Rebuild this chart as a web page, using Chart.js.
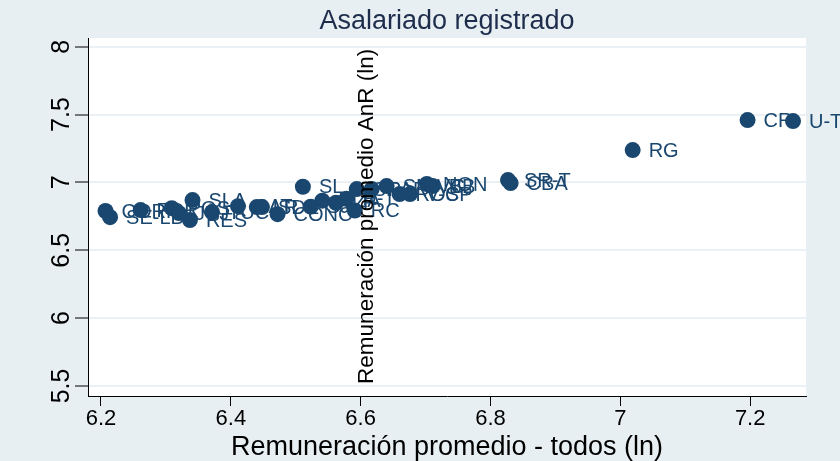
<!DOCTYPE html>
<html>
<head>
<meta charset="utf-8">
<script src="https://cdn.jsdelivr.net/npm/chart.js@4/dist/chart.umd.min.js"></script>
<style>
  body { margin: 0; background: #e8eff2; }
  canvas { display: block; }
</style>
</head>
<body>
<canvas id="chart" width="840" height="461"></canvas>
<script>
// aglomerados: labels, x = remuneración promedio todos (ln), y = remuneración AnR (ln)
const names = ['CORR', 'SE-LB', 'FOR', 'POS', 'JUJ', 'SLA', 'RES', 'TUC', 'CAT', 'LR',
  'SDE', 'CONC', 'SL', 'SJ', 'MZA', 'LP', 'R-T', 'RC', 'SF', 'PAR', 'SN-VC', 'ROS',
  'V-CP', 'NQN', 'BB', 'SR-T', 'CBA', 'RG', 'CR', 'U-TF'];
const xVals = [6.207, 6.214, 6.261, 6.309, 6.320, 6.341, 6.337, 6.371, 6.411, 6.440,
  6.448, 6.472, 6.511, 6.523, 6.541, 6.562, 6.578, 6.591, 6.594, 6.617, 6.640, 6.660,
  6.676, 6.702, 6.711, 6.827, 6.831, 7.019, 7.196, 7.266];
const yVals = [6.789, 6.744, 6.796, 6.810, 6.774, 6.870, 6.722, 6.781, 6.825, 6.818,
  6.818, 6.766, 6.968, 6.821, 6.865, 6.850, 6.879, 6.793, 6.951, 6.951, 6.973, 6.914,
  6.914, 6.988, 6.973, 7.017, 6.995, 7.238, 7.459, 7.452];

const xTicks = [6.2, 6.4, 6.6, 6.8, 7, 7.2];
const yTicks = [5.5, 6, 6.5, 7, 7.5, 8];

const titleText = 'Asalariado registrado';
const xTitle = 'Remuneración promedio - todos (ln)';
const lineText = 'Remuneración promedio AnR (ln)';
const lineAt = { x: 6.6, y: 6.75 };

const family = '"Liberation Sans", Arial, sans-serif';
const markerColor = '#1a476f';
const bgColor = '#e8eff2';
const gridColor = '#eaf0f3';

const plotBg = {
    id: 'plotBg',
    beforeDraw(chart) {
        const { ctx, chartArea } = chart;
        ctx.save();
        ctx.fillStyle = bgColor;
        ctx.fillRect(0, 0, chart.width, chart.height);
        ctx.fillStyle = '#ffffff';
        ctx.fillRect(chartArea.left, chartArea.top, chartArea.right - chartArea.left, chartArea.bottom - chartArea.top);
        ctx.restore();
    }
};

const pointLabels = {
    id: 'pointLabels',
    beforeDatasetsDraw(chart) {
        const ctx = chart.ctx;
        const meta = chart.getDatasetMeta(0);
        ctx.save();
        ctx.font = '20px ' + family;
        ctx.fillStyle = markerColor;
        ctx.textBaseline = 'middle';
        meta.data.forEach((pt, i) => {
            ctx.fillText(names[i], pt.x + 16, pt.y + 1);
        });
        ctx.restore();
    },
    afterDatasetsDraw(chart) {
        // vertical text placed at x = 6.6
        const ctx = chart.ctx;
        const px = chart.scales.x.getPixelForValue(lineAt.x) + 6;
        const py = chart.scales.y.getPixelForValue(lineAt.y);
        ctx.save();
        ctx.translate(px, py);
        ctx.rotate(-Math.PI / 2);
        ctx.font = '22.5px ' + family;
        ctx.fillStyle = '#000';
        ctx.textAlign = 'center';
        ctx.textBaseline = 'middle';
        ctx.fillText(lineText, 0, 0);
        ctx.restore();
    }
};

const points = xVals.map((x, i) => ({ x: x, y: yVals[i] }));

new Chart(document.getElementById('chart'), {
    type: 'scatter',
    data: {
        datasets: [{
            data: points,
            backgroundColor: markerColor,
            borderColor: markerColor,
            borderWidth: 0,
            pointRadius: 8,
            pointHoverRadius: 8,
            clip: false
        }]
    },
    options: {
        responsive: false,
        animation: false,
        layout: { padding: { top: 0, right: 34, bottom: 0, left: 0 } },
        plugins: {
            legend: { display: false },
            tooltip: { enabled: false },
            title: {
                display: true,
                fullSize: false,
                text: titleText,
                color: '#1f2d4d',
                font: { family: family, size: 27, weight: 'normal', lineHeight: 1.2 },
                padding: { top: 5, bottom: 0.6 }
            }
        },
        scales: {
            x: {
                type: 'linear',
                min: 6.18,
                max: 7.286,
                afterBuildTicks: s => { s.ticks = xTicks.map(v => ({ value: v })); },
                afterFit: s => { s.height = 65; },
                grid: { drawOnChartArea: false, tickLength: 10, tickColor: '#000', tickWidth: 1 },
                border: { color: '#000', width: 1 },
                ticks: {
                    color: '#000',
                    font: { family: family, size: 22 },
                    padding: 0,
                    callback: v => String(Math.round(v * 10) / 10)
                },
                title: {
                    display: true,
                    text: xTitle,
                    color: '#000',
                    font: { family: family, size: 27, lineHeight: 1 },
                    padding: { top: 0, bottom: 0 }
                }
            },
            y: {
                type: 'linear',
                min: 5.426,
                max: 8.064,
                afterBuildTicks: s => { s.ticks = yTicks.map(v => ({ value: v })); },
                afterFit: s => { s.width = 88; },
                grid: { color: gridColor, lineWidth: 2, tickColor: '#000', tickLength: 13, tickWidth: 1 },
                border: { color: '#000', width: 1 },
                ticks: {
                    color: '#000',
                    font: { family: family, size: 25 },
                    minRotation: 90,
                    maxRotation: 90,
                    crossAlign: 'center',
                    padding: -4,
                    callback: v => String(Math.round(v * 10) / 10)
                }
            }
        }
    },
    plugins: [plotBg, pointLabels]
});
</script>
</body>
</html>
